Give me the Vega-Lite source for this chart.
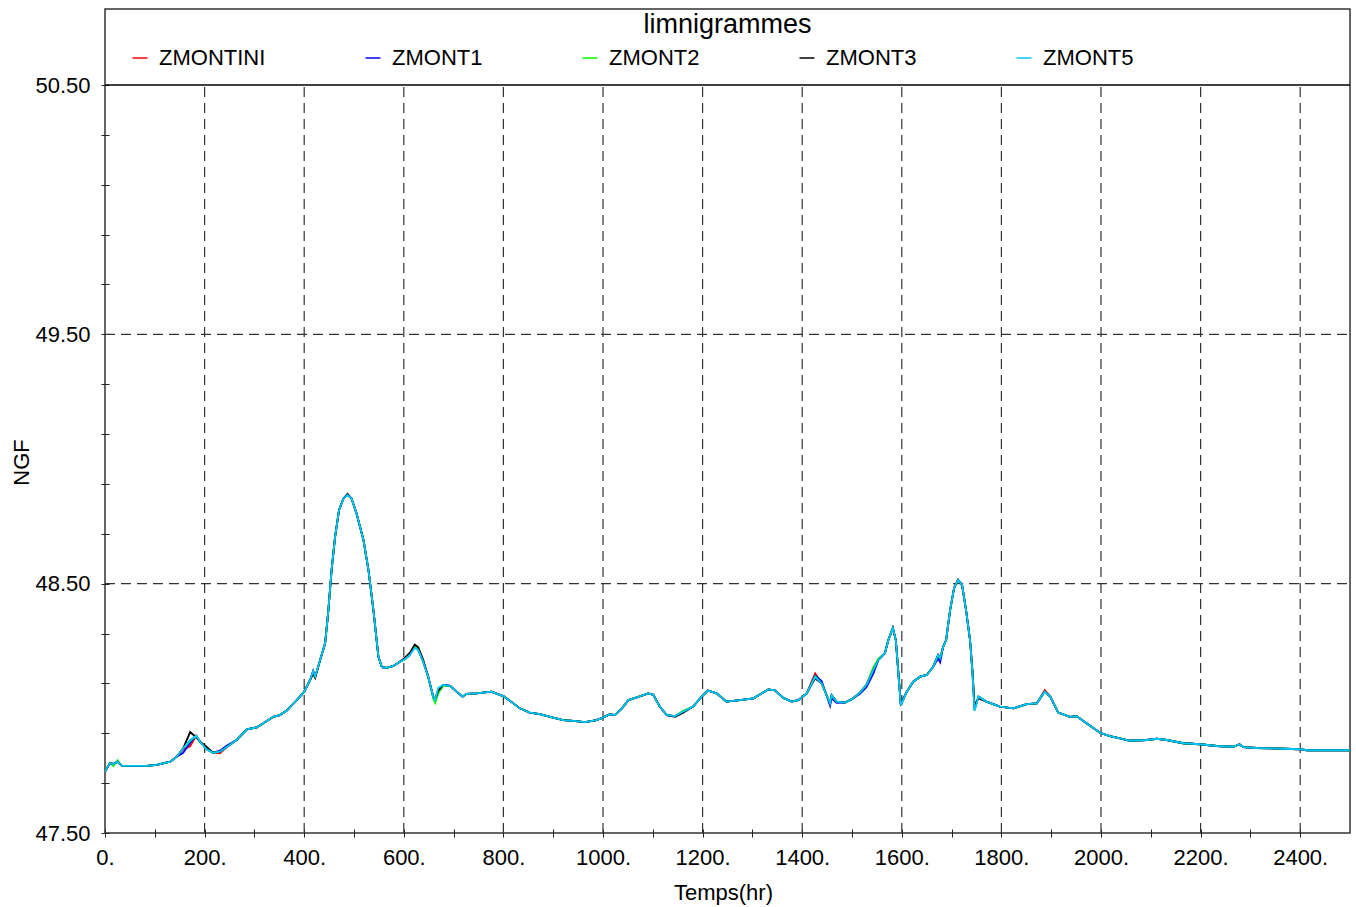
{
"$schema": "https://vega.github.io/schema/vega-lite/v6.json",
"width": 1245, "height": 824,
"autosize": {"type": "none"},
"padding": {"left": 105, "top": 9, "right": 6, "bottom": 74},
"background": "white",
"config": {"view": {"stroke": "#333", "strokeWidth": 1.5}, "font": "Liberation Sans"},
"title": {"text": "limnigrammes", "fontSize": 27, "fontWeight": "normal", "font": "Liberation Sans", "color": "black", "anchor": "middle", "baseline": "alphabetic", "offset": -23, "dy": 28},
"layer": [
{"data": {"values": [{"t":200},{"t":400},{"t":600},{"t":800},{"t":1000},{"t":1200},{"t":1400},{"t":1600},{"t":1800},{"t":2000},{"t":2200},{"t":2400}]},
 "mark": {"type": "rule", "color": "#333", "strokeDash": [10, 6], "strokeWidth": 1.2},
 "encoding": {"x": {"field": "t", "type": "quantitative"}, "y": {"datum": 47.5}, "y2": {"datum": 50.5}}},
{"data": {"values": [{"ngf": 48.5}, {"ngf": 49.5}]},
 "mark": {"type": "rule", "color": "#333", "strokeDash": [10, 6], "strokeWidth": 1.2},
 "encoding": {"y": {"field": "ngf", "type": "quantitative"}, "x": {"datum": 0}, "x2": {"datum": 2500}}},
{"data": {"values": [{"ngf": 50.5}]},
 "mark": {"type": "rule", "color": "black", "strokeWidth": 1.5},
 "encoding": {"y": {"field": "ngf", "type": "quantitative"}, "x": {"datum": 0}, "x2": {"datum": 2500}}},
{"data": {"values": [
{"t":0,"ZMONTINI":47.746,"ZMONT1":47.746,"ZMONT2":47.746,"ZMONT3":47.746,"ZMONT5":47.746},
{"t":10,"ZMONTINI":47.780,"ZMONT1":47.780,"ZMONT2":47.782,"ZMONT3":47.780,"ZMONT5":47.780},
{"t":17,"ZMONTINI":47.777,"ZMONT1":47.777,"ZMONT2":47.768,"ZMONT3":47.777,"ZMONT5":47.777},
{"t":25,"ZMONTINI":47.786,"ZMONT1":47.786,"ZMONT2":47.792,"ZMONT3":47.786,"ZMONT5":47.786},
{"t":34,"ZMONTINI":47.769,"ZMONT1":47.769,"ZMONT2":47.769,"ZMONT3":47.769,"ZMONT5":47.769},
{"t":84,"ZMONTINI":47.769,"ZMONT1":47.769,"ZMONT2":47.769,"ZMONT3":47.769,"ZMONT5":47.769},
{"t":104,"ZMONTINI":47.773,"ZMONT1":47.773,"ZMONT2":47.773,"ZMONT3":47.773,"ZMONT5":47.773},
{"t":131,"ZMONTINI":47.786,"ZMONT1":47.786,"ZMONT2":47.786,"ZMONT3":47.786,"ZMONT5":47.786},
{"t":144,"ZMONTINI":47.806,"ZMONT1":47.806,"ZMONT2":47.806,"ZMONT3":47.806,"ZMONT5":47.806},
{"t":157,"ZMONTINI":47.835,"ZMONT1":47.822,"ZMONT2":47.840,"ZMONT3":47.840,"ZMONT5":47.840},
{"t":171,"ZMONTINI":47.848,"ZMONT1":47.862,"ZMONT2":47.870,"ZMONT3":47.905,"ZMONT5":47.873},
{"t":183,"ZMONTINI":47.890,"ZMONT1":47.890,"ZMONT2":47.890,"ZMONT3":47.884,"ZMONT5":47.890},
{"t":191,"ZMONTINI":47.866,"ZMONT1":47.866,"ZMONT2":47.866,"ZMONT3":47.866,"ZMONT5":47.866},
{"t":204,"ZMONTINI":47.836,"ZMONT1":47.836,"ZMONT2":47.836,"ZMONT3":47.845,"ZMONT5":47.836},
{"t":217,"ZMONTINI":47.822,"ZMONT1":47.822,"ZMONT2":47.822,"ZMONT3":47.822,"ZMONT5":47.822},
{"t":231,"ZMONTINI":47.820,"ZMONT1":47.830,"ZMONT2":47.826,"ZMONT3":47.826,"ZMONT5":47.826},
{"t":244,"ZMONTINI":47.844,"ZMONT1":47.850,"ZMONT2":47.844,"ZMONT3":47.844,"ZMONT5":47.844},
{"t":264,"ZMONTINI":47.873,"ZMONT1":47.873,"ZMONT2":47.873,"ZMONT3":47.873,"ZMONT5":47.873},
{"t":285,"ZMONTINI":47.916,"ZMONT1":47.916,"ZMONT2":47.916,"ZMONT3":47.916,"ZMONT5":47.916},
{"t":305,"ZMONTINI":47.924,"ZMONT1":47.924,"ZMONT2":47.924,"ZMONT3":47.924,"ZMONT5":47.924},
{"t":318,"ZMONTINI":47.940,"ZMONT1":47.940,"ZMONT2":47.940,"ZMONT3":47.940,"ZMONT5":47.940},
{"t":338,"ZMONTINI":47.966,"ZMONT1":47.966,"ZMONT2":47.966,"ZMONT3":47.966,"ZMONT5":47.966},
{"t":351,"ZMONTINI":47.973,"ZMONT1":47.973,"ZMONT2":47.973,"ZMONT3":47.973,"ZMONT5":47.973},
{"t":365,"ZMONTINI":47.991,"ZMONT1":47.991,"ZMONT2":47.991,"ZMONT3":47.991,"ZMONT5":47.991},
{"t":385,"ZMONTINI":48.033,"ZMONT1":48.033,"ZMONT2":48.033,"ZMONT3":48.033,"ZMONT5":48.033},
{"t":400,"ZMONTINI":48.067,"ZMONT1":48.067,"ZMONT2":48.067,"ZMONT3":48.067,"ZMONT5":48.067},
{"t":412,"ZMONTINI":48.114,"ZMONT1":48.114,"ZMONT2":48.114,"ZMONT3":48.114,"ZMONT5":48.114},
{"t":418,"ZMONTINI":48.150,"ZMONT1":48.150,"ZMONT2":48.142,"ZMONT3":48.138,"ZMONT5":48.150},
{"t":422,"ZMONTINI":48.127,"ZMONT1":48.127,"ZMONT2":48.127,"ZMONT3":48.122,"ZMONT5":48.127},
{"t":432,"ZMONTINI":48.194,"ZMONT1":48.194,"ZMONT2":48.194,"ZMONT3":48.194,"ZMONT5":48.194},
{"t":442,"ZMONTINI":48.261,"ZMONT1":48.261,"ZMONT2":48.261,"ZMONT3":48.261,"ZMONT5":48.261},
{"t":448,"ZMONTINI":48.381,"ZMONT1":48.381,"ZMONT2":48.381,"ZMONT3":48.381,"ZMONT5":48.381},
{"t":455,"ZMONTINI":48.555,"ZMONT1":48.555,"ZMONT2":48.555,"ZMONT3":48.555,"ZMONT5":48.555},
{"t":462,"ZMONTINI":48.688,"ZMONT1":48.688,"ZMONT2":48.688,"ZMONT3":48.688,"ZMONT5":48.688},
{"t":470,"ZMONTINI":48.796,"ZMONT1":48.796,"ZMONT2":48.796,"ZMONT3":48.796,"ZMONT5":48.796},
{"t":479,"ZMONTINI":48.842,"ZMONT1":48.842,"ZMONT2":48.842,"ZMONT3":48.842,"ZMONT5":48.842},
{"t":487,"ZMONTINI":48.856,"ZMONT1":48.856,"ZMONT2":48.856,"ZMONT3":48.860,"ZMONT5":48.856},
{"t":495,"ZMONTINI":48.842,"ZMONT1":48.842,"ZMONT2":48.842,"ZMONT3":48.842,"ZMONT5":48.842},
{"t":505,"ZMONTINI":48.782,"ZMONT1":48.782,"ZMONT2":48.782,"ZMONT3":48.782,"ZMONT5":48.782},
{"t":519,"ZMONTINI":48.675,"ZMONT1":48.675,"ZMONT2":48.675,"ZMONT3":48.675,"ZMONT5":48.675},
{"t":529,"ZMONTINI":48.555,"ZMONT1":48.555,"ZMONT2":48.555,"ZMONT3":48.555,"ZMONT5":48.555},
{"t":539,"ZMONTINI":48.394,"ZMONT1":48.394,"ZMONT2":48.394,"ZMONT3":48.394,"ZMONT5":48.394},
{"t":549,"ZMONTINI":48.207,"ZMONT1":48.207,"ZMONT2":48.207,"ZMONT3":48.207,"ZMONT5":48.207},
{"t":556,"ZMONTINI":48.165,"ZMONT1":48.165,"ZMONT2":48.165,"ZMONT3":48.165,"ZMONT5":48.165},
{"t":566,"ZMONTINI":48.162,"ZMONT1":48.162,"ZMONT2":48.162,"ZMONT3":48.162,"ZMONT5":48.162},
{"t":579,"ZMONTINI":48.170,"ZMONT1":48.170,"ZMONT2":48.170,"ZMONT3":48.170,"ZMONT5":48.170},
{"t":592,"ZMONTINI":48.187,"ZMONT1":48.187,"ZMONT2":48.187,"ZMONT3":48.187,"ZMONT5":48.187},
{"t":602,"ZMONTINI":48.197,"ZMONT1":48.197,"ZMONT2":48.197,"ZMONT3":48.202,"ZMONT5":48.197},
{"t":612,"ZMONTINI":48.214,"ZMONT1":48.214,"ZMONT2":48.214,"ZMONT3":48.222,"ZMONT5":48.214},
{"t":622,"ZMONTINI":48.250,"ZMONT1":48.248,"ZMONT2":48.250,"ZMONT3":48.256,"ZMONT5":48.242},
{"t":629,"ZMONTINI":48.234,"ZMONT1":48.234,"ZMONT2":48.234,"ZMONT3":48.245,"ZMONT5":48.234},
{"t":639,"ZMONTINI":48.187,"ZMONT1":48.187,"ZMONT2":48.187,"ZMONT3":48.195,"ZMONT5":48.187},
{"t":649,"ZMONTINI":48.127,"ZMONT1":48.127,"ZMONT2":48.127,"ZMONT3":48.127,"ZMONT5":48.127},
{"t":659,"ZMONTINI":48.047,"ZMONT1":48.047,"ZMONT2":48.040,"ZMONT3":48.047,"ZMONT5":48.047},
{"t":663,"ZMONTINI":48.034,"ZMONT1":48.034,"ZMONT2":48.022,"ZMONT3":48.036,"ZMONT5":48.034},
{"t":669,"ZMONTINI":48.066,"ZMONT1":48.072,"ZMONT2":48.060,"ZMONT3":48.070,"ZMONT5":48.082},
{"t":679,"ZMONTINI":48.094,"ZMONT1":48.094,"ZMONT2":48.090,"ZMONT3":48.094,"ZMONT5":48.094},
{"t":693,"ZMONTINI":48.090,"ZMONT1":48.090,"ZMONT2":48.090,"ZMONT3":48.090,"ZMONT5":48.090},
{"t":706,"ZMONTINI":48.067,"ZMONT1":48.067,"ZMONT2":48.067,"ZMONT3":48.067,"ZMONT5":48.067},
{"t":718,"ZMONTINI":48.047,"ZMONT1":48.047,"ZMONT2":48.047,"ZMONT3":48.047,"ZMONT5":48.047},
{"t":726,"ZMONTINI":48.058,"ZMONT1":48.058,"ZMONT2":48.058,"ZMONT3":48.058,"ZMONT5":48.058},
{"t":746,"ZMONTINI":48.060,"ZMONT1":48.060,"ZMONT2":48.060,"ZMONT3":48.060,"ZMONT5":48.060},
{"t":776,"ZMONTINI":48.067,"ZMONT1":48.067,"ZMONT2":48.067,"ZMONT3":48.067,"ZMONT5":48.067},
{"t":790,"ZMONTINI":48.056,"ZMONT1":48.056,"ZMONT2":48.056,"ZMONT3":48.056,"ZMONT5":48.056},
{"t":800,"ZMONTINI":48.049,"ZMONT1":48.049,"ZMONT2":48.049,"ZMONT3":48.049,"ZMONT5":48.049},
{"t":820,"ZMONTINI":48.020,"ZMONT1":48.020,"ZMONT2":48.020,"ZMONT3":48.020,"ZMONT5":48.020},
{"t":833,"ZMONTINI":48.000,"ZMONT1":48.000,"ZMONT2":48.000,"ZMONT3":48.000,"ZMONT5":48.000},
{"t":853,"ZMONTINI":47.983,"ZMONT1":47.983,"ZMONT2":47.983,"ZMONT3":47.983,"ZMONT5":47.983},
{"t":873,"ZMONTINI":47.977,"ZMONT1":47.977,"ZMONT2":47.977,"ZMONT3":47.977,"ZMONT5":47.977},
{"t":894,"ZMONTINI":47.966,"ZMONT1":47.966,"ZMONT2":47.966,"ZMONT3":47.966,"ZMONT5":47.966},
{"t":920,"ZMONTINI":47.953,"ZMONT1":47.953,"ZMONT2":47.953,"ZMONT3":47.953,"ZMONT5":47.953},
{"t":940,"ZMONTINI":47.950,"ZMONT1":47.950,"ZMONT2":47.950,"ZMONT3":47.950,"ZMONT5":47.950},
{"t":964,"ZMONTINI":47.945,"ZMONT1":47.945,"ZMONT2":47.945,"ZMONT3":47.945,"ZMONT5":47.945},
{"t":987,"ZMONTINI":47.953,"ZMONT1":47.953,"ZMONT2":47.953,"ZMONT3":47.953,"ZMONT5":47.953},
{"t":1001,"ZMONTINI":47.964,"ZMONT1":47.964,"ZMONT2":47.964,"ZMONT3":47.964,"ZMONT5":47.964},
{"t":1014,"ZMONTINI":47.977,"ZMONT1":47.977,"ZMONT2":47.977,"ZMONT3":47.977,"ZMONT5":47.977},
{"t":1024,"ZMONTINI":47.973,"ZMONT1":47.973,"ZMONT2":47.973,"ZMONT3":47.973,"ZMONT5":47.973},
{"t":1038,"ZMONTINI":48.000,"ZMONT1":48.000,"ZMONT2":48.000,"ZMONT3":48.000,"ZMONT5":48.000},
{"t":1051,"ZMONTINI":48.033,"ZMONT1":48.033,"ZMONT2":48.033,"ZMONT3":48.033,"ZMONT5":48.033},
{"t":1068,"ZMONTINI":48.044,"ZMONT1":48.044,"ZMONT2":48.044,"ZMONT3":48.044,"ZMONT5":48.044},
{"t":1091,"ZMONTINI":48.060,"ZMONT1":48.060,"ZMONT2":48.060,"ZMONT3":48.060,"ZMONT5":48.060},
{"t":1101,"ZMONTINI":48.054,"ZMONT1":48.054,"ZMONT2":48.054,"ZMONT3":48.054,"ZMONT5":48.054},
{"t":1114,"ZMONTINI":48.007,"ZMONT1":48.007,"ZMONT2":48.007,"ZMONT3":48.007,"ZMONT5":48.007},
{"t":1128,"ZMONTINI":47.973,"ZMONT1":47.973,"ZMONT2":47.973,"ZMONT3":47.973,"ZMONT5":47.973},
{"t":1145,"ZMONTINI":47.969,"ZMONT1":47.969,"ZMONT2":47.969,"ZMONT3":47.966,"ZMONT5":47.969},
{"t":1161,"ZMONTINI":47.987,"ZMONT1":47.987,"ZMONT2":47.990,"ZMONT3":47.982,"ZMONT5":47.987},
{"t":1181,"ZMONTINI":48.007,"ZMONT1":48.007,"ZMONT2":48.007,"ZMONT3":48.007,"ZMONT5":48.007},
{"t":1198,"ZMONTINI":48.047,"ZMONT1":48.047,"ZMONT2":48.047,"ZMONT3":48.047,"ZMONT5":48.047},
{"t":1211,"ZMONTINI":48.071,"ZMONT1":48.071,"ZMONT2":48.071,"ZMONT3":48.071,"ZMONT5":48.071},
{"t":1228,"ZMONTINI":48.060,"ZMONT1":48.060,"ZMONT2":48.060,"ZMONT3":48.060,"ZMONT5":48.060},
{"t":1248,"ZMONTINI":48.027,"ZMONT1":48.027,"ZMONT2":48.027,"ZMONT3":48.027,"ZMONT5":48.027},
{"t":1275,"ZMONTINI":48.033,"ZMONT1":48.033,"ZMONT2":48.033,"ZMONT3":48.033,"ZMONT5":48.033},
{"t":1302,"ZMONTINI":48.040,"ZMONT1":48.040,"ZMONT2":48.040,"ZMONT3":48.040,"ZMONT5":48.040},
{"t":1332,"ZMONTINI":48.076,"ZMONT1":48.076,"ZMONT2":48.076,"ZMONT3":48.076,"ZMONT5":48.076},
{"t":1345,"ZMONTINI":48.072,"ZMONT1":48.072,"ZMONT2":48.072,"ZMONT3":48.072,"ZMONT5":48.072},
{"t":1362,"ZMONTINI":48.042,"ZMONT1":48.042,"ZMONT2":48.042,"ZMONT3":48.042,"ZMONT5":48.042},
{"t":1379,"ZMONTINI":48.027,"ZMONT1":48.027,"ZMONT2":48.027,"ZMONT3":48.027,"ZMONT5":48.027},
{"t":1392,"ZMONTINI":48.033,"ZMONT1":48.033,"ZMONT2":48.033,"ZMONT3":48.033,"ZMONT5":48.033},
{"t":1409,"ZMONTINI":48.060,"ZMONT1":48.060,"ZMONT2":48.060,"ZMONT3":48.060,"ZMONT5":48.060},
{"t":1426,"ZMONTINI":48.140,"ZMONT1":48.132,"ZMONT2":48.128,"ZMONT3":48.120,"ZMONT5":48.125},
{"t":1439,"ZMONTINI":48.100,"ZMONT1":48.110,"ZMONT2":48.100,"ZMONT3":48.100,"ZMONT5":48.100},
{"t":1456,"ZMONTINI":48.020,"ZMONT1":48.010,"ZMONT2":48.020,"ZMONT3":48.020,"ZMONT5":48.020},
{"t":1459,"ZMONTINI":48.053,"ZMONT1":48.040,"ZMONT2":48.053,"ZMONT3":48.053,"ZMONT5":48.053},
{"t":1469,"ZMONTINI":48.027,"ZMONT1":48.022,"ZMONT2":48.027,"ZMONT3":48.027,"ZMONT5":48.027},
{"t":1486,"ZMONTINI":48.023,"ZMONT1":48.023,"ZMONT2":48.023,"ZMONT3":48.023,"ZMONT5":48.023},
{"t":1499,"ZMONTINI":48.036,"ZMONT1":48.036,"ZMONT2":48.036,"ZMONT3":48.036,"ZMONT5":48.036},
{"t":1516,"ZMONTINI":48.063,"ZMONT1":48.058,"ZMONT2":48.063,"ZMONT3":48.063,"ZMONT5":48.063},
{"t":1529,"ZMONTINI":48.094,"ZMONT1":48.085,"ZMONT2":48.094,"ZMONT3":48.094,"ZMONT5":48.094},
{"t":1543,"ZMONTINI":48.154,"ZMONT1":48.140,"ZMONT2":48.165,"ZMONT3":48.154,"ZMONT5":48.154},
{"t":1553,"ZMONTINI":48.194,"ZMONT1":48.194,"ZMONT2":48.200,"ZMONT3":48.194,"ZMONT5":48.194},
{"t":1566,"ZMONTINI":48.221,"ZMONT1":48.221,"ZMONT2":48.221,"ZMONT3":48.221,"ZMONT5":48.221},
{"t":1573,"ZMONTINI":48.274,"ZMONT1":48.274,"ZMONT2":48.274,"ZMONT3":48.274,"ZMONT5":48.274},
{"t":1582,"ZMONTINI":48.322,"ZMONT1":48.322,"ZMONT2":48.322,"ZMONT3":48.322,"ZMONT5":48.322},
{"t":1588,"ZMONTINI":48.274,"ZMONT1":48.274,"ZMONT2":48.274,"ZMONT3":48.274,"ZMONT5":48.274},
{"t":1598,"ZMONTINI":48.013,"ZMONT1":48.013,"ZMONT2":48.013,"ZMONT3":48.020,"ZMONT5":48.013},
{"t":1610,"ZMONTINI":48.067,"ZMONT1":48.067,"ZMONT2":48.067,"ZMONT3":48.067,"ZMONT5":48.067},
{"t":1623,"ZMONTINI":48.107,"ZMONT1":48.107,"ZMONT2":48.107,"ZMONT3":48.107,"ZMONT5":48.107},
{"t":1637,"ZMONTINI":48.127,"ZMONT1":48.127,"ZMONT2":48.127,"ZMONT3":48.127,"ZMONT5":48.127},
{"t":1650,"ZMONTINI":48.134,"ZMONT1":48.134,"ZMONT2":48.134,"ZMONT3":48.134,"ZMONT5":48.134},
{"t":1663,"ZMONTINI":48.167,"ZMONT1":48.167,"ZMONT2":48.167,"ZMONT3":48.167,"ZMONT5":48.167},
{"t":1673,"ZMONTINI":48.214,"ZMONT1":48.200,"ZMONT2":48.214,"ZMONT3":48.214,"ZMONT5":48.214},
{"t":1677,"ZMONTINI":48.201,"ZMONT1":48.185,"ZMONT2":48.201,"ZMONT3":48.201,"ZMONT5":48.201},
{"t":1683,"ZMONTINI":48.247,"ZMONT1":48.247,"ZMONT2":48.247,"ZMONT3":48.247,"ZMONT5":48.247},
{"t":1689,"ZMONTINI":48.274,"ZMONT1":48.274,"ZMONT2":48.274,"ZMONT3":48.274,"ZMONT5":48.274},
{"t":1697,"ZMONTINI":48.394,"ZMONT1":48.394,"ZMONT2":48.394,"ZMONT3":48.394,"ZMONT5":48.394},
{"t":1705,"ZMONTINI":48.483,"ZMONT1":48.483,"ZMONT2":48.483,"ZMONT3":48.483,"ZMONT5":48.483},
{"t":1713,"ZMONTINI":48.515,"ZMONT1":48.515,"ZMONT2":48.515,"ZMONT3":48.515,"ZMONT5":48.515},
{"t":1721,"ZMONTINI":48.495,"ZMONT1":48.495,"ZMONT2":48.495,"ZMONT3":48.495,"ZMONT5":48.495},
{"t":1729,"ZMONTINI":48.394,"ZMONT1":48.394,"ZMONT2":48.394,"ZMONT3":48.394,"ZMONT5":48.394},
{"t":1737,"ZMONTINI":48.274,"ZMONT1":48.274,"ZMONT2":48.274,"ZMONT3":48.274,"ZMONT5":48.274},
{"t":1742,"ZMONTINI":48.141,"ZMONT1":48.141,"ZMONT2":48.141,"ZMONT3":48.150,"ZMONT5":48.141},
{"t":1746,"ZMONTINI":48.000,"ZMONT1":47.993,"ZMONT2":47.993,"ZMONT3":48.012,"ZMONT5":47.990},
{"t":1754,"ZMONTINI":48.047,"ZMONT1":48.047,"ZMONT2":48.047,"ZMONT3":48.040,"ZMONT5":48.047},
{"t":1770,"ZMONTINI":48.027,"ZMONT1":48.027,"ZMONT2":48.027,"ZMONT3":48.027,"ZMONT5":48.027},
{"t":1797,"ZMONTINI":48.007,"ZMONT1":48.007,"ZMONT2":48.007,"ZMONT3":48.007,"ZMONT5":48.007},
{"t":1824,"ZMONTINI":48.000,"ZMONT1":48.000,"ZMONT2":48.000,"ZMONT3":48.000,"ZMONT5":48.000},
{"t":1851,"ZMONTINI":48.017,"ZMONT1":48.017,"ZMONT2":48.017,"ZMONT3":48.017,"ZMONT5":48.017},
{"t":1871,"ZMONTINI":48.020,"ZMONT1":48.020,"ZMONT2":48.020,"ZMONT3":48.020,"ZMONT5":48.020},
{"t":1887,"ZMONTINI":48.073,"ZMONT1":48.067,"ZMONT2":48.067,"ZMONT3":48.067,"ZMONT5":48.067},
{"t":1898,"ZMONTINI":48.047,"ZMONT1":48.047,"ZMONT2":48.047,"ZMONT3":48.047,"ZMONT5":48.047},
{"t":1914,"ZMONTINI":47.983,"ZMONT1":47.983,"ZMONT2":47.983,"ZMONT3":47.983,"ZMONT5":47.983},
{"t":1938,"ZMONTINI":47.966,"ZMONT1":47.966,"ZMONT2":47.966,"ZMONT3":47.966,"ZMONT5":47.966},
{"t":1951,"ZMONTINI":47.969,"ZMONT1":47.969,"ZMONT2":47.969,"ZMONT3":47.969,"ZMONT5":47.969},
{"t":1971,"ZMONTINI":47.940,"ZMONT1":47.940,"ZMONT2":47.940,"ZMONT3":47.940,"ZMONT5":47.940},
{"t":1998,"ZMONTINI":47.902,"ZMONT1":47.902,"ZMONT2":47.902,"ZMONT3":47.902,"ZMONT5":47.902},
{"t":2018,"ZMONTINI":47.889,"ZMONT1":47.889,"ZMONT2":47.889,"ZMONT3":47.889,"ZMONT5":47.889},
{"t":2038,"ZMONTINI":47.880,"ZMONT1":47.880,"ZMONT2":47.880,"ZMONT3":47.880,"ZMONT5":47.880},
{"t":2058,"ZMONTINI":47.870,"ZMONT1":47.870,"ZMONT2":47.870,"ZMONT3":47.870,"ZMONT5":47.870},
{"t":2092,"ZMONTINI":47.873,"ZMONT1":47.873,"ZMONT2":47.873,"ZMONT3":47.873,"ZMONT5":47.873},
{"t":2112,"ZMONTINI":47.878,"ZMONT1":47.878,"ZMONT2":47.878,"ZMONT3":47.878,"ZMONT5":47.878},
{"t":2132,"ZMONTINI":47.873,"ZMONT1":47.873,"ZMONT2":47.873,"ZMONT3":47.873,"ZMONT5":47.873},
{"t":2165,"ZMONTINI":47.860,"ZMONT1":47.860,"ZMONT2":47.860,"ZMONT3":47.860,"ZMONT5":47.860},
{"t":2199,"ZMONTINI":47.856,"ZMONT1":47.856,"ZMONT2":47.856,"ZMONT3":47.856,"ZMONT5":47.856},
{"t":2232,"ZMONTINI":47.849,"ZMONT1":47.849,"ZMONT2":47.849,"ZMONT3":47.849,"ZMONT5":47.849},
{"t":2266,"ZMONTINI":47.846,"ZMONT1":47.846,"ZMONT2":47.846,"ZMONT3":47.846,"ZMONT5":47.846},
{"t":2278,"ZMONTINI":47.856,"ZMONT1":47.856,"ZMONT2":47.856,"ZMONT3":47.856,"ZMONT5":47.856},
{"t":2286,"ZMONTINI":47.844,"ZMONT1":47.844,"ZMONT2":47.844,"ZMONT3":47.844,"ZMONT5":47.844},
{"t":2313,"ZMONTINI":47.841,"ZMONT1":47.841,"ZMONT2":47.841,"ZMONT3":47.841,"ZMONT5":47.841},
{"t":2366,"ZMONTINI":47.838,"ZMONT1":47.838,"ZMONT2":47.838,"ZMONT3":47.838,"ZMONT5":47.838},
{"t":2400,"ZMONTINI":47.836,"ZMONT1":47.836,"ZMONT2":47.836,"ZMONT3":47.836,"ZMONT5":47.836},
{"t":2413,"ZMONTINI":47.832,"ZMONT1":47.832,"ZMONT2":47.832,"ZMONT3":47.832,"ZMONT5":47.832},
{"t":2500,"ZMONTINI":47.832,"ZMONT1":47.832,"ZMONT2":47.832,"ZMONT3":47.832,"ZMONT5":47.832}
]},
 "transform": [{"fold": ["ZMONTINI", "ZMONT1", "ZMONT2", "ZMONT3", "ZMONT5"], "as": ["series", "ngf"]}],
 "mark": {"type": "line", "strokeWidth": 1.8, "clip": true},
 "encoding": {
  "x": {"field": "t", "type": "quantitative",
   "scale": {"domain": [0, 2500], "nice": false, "zero": false},
   "axis": {"title": "Temps(hr)", "titleFontSize": 22, "titleFont": "Liberation Sans", "titleFontWeight": "normal", "titleColor": "black", "titleBaseline": "middle", "titleAlign": "center", "titleX": 618, "titleY": 63,
    "values": [0,50,100,150,200,250,300,350,400,450,500,550,600,650,700,750,800,850,900,950,1000,1050,1100,1150,1200,1250,1300,1350,1400,1450,1500,1550,1600,1650,1700,1750,1800,1850,1900,1950,2000,2050,2100,2150,2200,2250,2300,2350,2400,2450],
    "labelExpr": "datum.value % 200 === 0 ? datum.value + '.' : ''",
    "labelFontSize": 22, "labelFont": "Liberation Sans", "labelColor": "black", "labelPadding": 10, "labelFlush": false, "labelOverlap": false, "labelBound": false,
    "tickSize": 8, "tickColor": "#222", "tickWidth": 1, "domain": false, "grid": false, "offset": -4}},
  "y": {"field": "ngf", "type": "quantitative",
   "scale": {"domain": [47.5, 50.805], "nice": false, "zero": false},
   "axis": {"title": "NGF", "titleFontSize": 22, "titleFont": "Liberation Sans", "titleFontWeight": "normal", "titleColor": "black", "titleBaseline": "middle", "titleAlign": "center", "titleAngle": 270, "titleX": -88, "titleY": 453,
    "values": [47.5,47.7,47.9,48.1,48.3,48.5,48.7,48.9,49.1,49.3,49.5,49.7,49.9,50.1,50.3,50.5],
    "labelExpr": "abs((datum.value - 47.5) % 1) < 0.01 || abs((datum.value - 47.5) % 1) > 0.99 ? format(datum.value, '.2f') : ''",
    "labelFontSize": 22, "labelFont": "Liberation Sans", "labelColor": "black", "labelPadding": 11, "labelFlush": false, "labelOverlap": false, "labelBound": false,
    "tickSize": 8, "tickColor": "#222", "tickWidth": 1, "domain": false, "grid": false, "offset": -4}},
  "color": {"field": "series", "type": "nominal",
   "scale": {"domain": ["ZMONTINI", "ZMONT1", "ZMONT2", "ZMONT3", "ZMONT5"], "range": ["#ff0000", "#0000ff", "#00ff00", "#000000", "#00c8ff"]},
   "legend": {"orient": "none", "legendX": 24, "legendY": 38, "direction": "horizontal", "columns": 5, "title": null,
    "labelFontSize": 22, "labelFont": "Liberation Sans", "labelColor": "black", "labelLimit": 300,
    "symbolType": "stroke", "symbolSize": 225, "symbolStrokeWidth": 1.5, "labelOffset": 8, "columnPadding": 96, "padding": 0}}
 }}
]
}
